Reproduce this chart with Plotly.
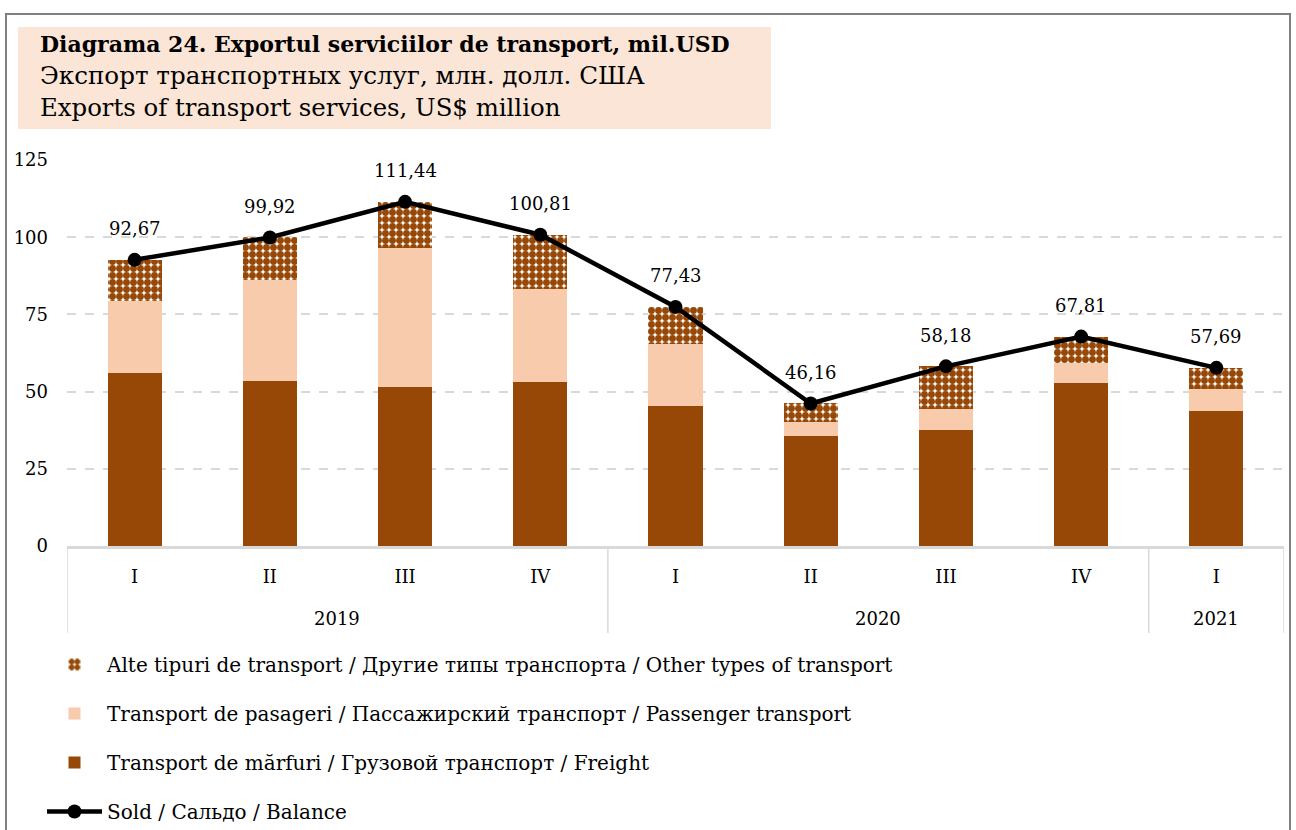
import plotly.graph_objects as go

years = ["2019", "2019", "2019", "2019", "2020", "2020", "2020", "2020", "2021"]
quarters = ["I", "II", "III", "IV", "I", "II", "III", "IV", "I"]
freight = [56.0, 53.4, 51.5, 53.1, 45.3, 35.7, 37.7, 52.7, 43.8]
passenger = [23.3, 32.7, 45.0, 30.1, 20.0, 4.3, 6.7, 6.6, 6.9]
other = [13.37, 13.82, 14.94, 17.61, 12.13, 6.16, 13.78, 8.51, 6.99]
balance = [92.67, 99.92, 111.44, 100.81, 77.43, 46.16, 58.18, 67.81, 57.69]

FONT = "DejaVu Serif"
BROWN = "#974706"
PEACH = "#F8CBAD"
GRID = "#D9D9D9"

W, H = 1296, 830
SX0, SX1 = 67, 1284      # plot area in screen px
SY0, SY1 = 160, 546
L, R = SX0, W - SX1
T, B = SY0, H - SY1
PW, PH = SX1 - SX0, SY1 - SY0


def px(x):
    return (x - SX0) / PW


def py(y):
    return (SY1 - y) / PH


idx = list(range(len(quarters)))

fig = go.Figure()
fig.add_trace(go.Bar(
    x=idx, y=freight, name="Transport de mărfuri / Грузовой транспорт / Freight",
    marker=dict(color=BROWN, line=dict(width=0)), legendrank=3, legendgroup="c"))
fig.add_trace(go.Bar(
    x=idx, y=passenger, name="Transport de pasageri / Пассажирский транспорт / Passenger transport",
    marker=dict(color=PEACH, line=dict(width=0)), legendrank=2, legendgroup="b"))
fig.add_trace(go.Bar(
    x=idx, y=other, name="Alte tipuri de transport / Другие типы транспорта / Other types of transport",
    marker=dict(color="white", line=dict(width=0),
                pattern=dict(shape=".", fgcolor=BROWN, bgcolor="white", size=7,
                             solidity=0.75, fgopacity=1)),
    legendrank=1, legendgroup="a"))
fig.add_trace(go.Scatter(
    x=idx, y=balance, name="Sold / Сальдо / Balance", mode="lines+markers",
    line=dict(color="black", width=4.5), marker=dict(color="black", size=14),
    cliponaxis=False, legendrank=4, legendgroup="d"))

shapes = [
    dict(type="rect", xref="paper", yref="paper", x0=px(6), x1=px(1290), y0=py(845), y1=py(14),
         line=dict(color="#7F7F7F", width=2), fillcolor="rgba(0,0,0,0)", layer="below"),
    dict(type="rect", xref="paper", yref="paper", x0=px(18), x1=px(771), y0=py(129), y1=py(27),
         line=dict(width=0), fillcolor="#FBE5D6", layer="below"),
]
# year group dividers on the category axis
group_edges = [-0.5]
for i in range(1, len(years)):
    if years[i] != years[i - 1]:
        group_edges.append(i - 0.5)
group_edges.append(len(years) - 0.5)
for e in group_edges:
    shapes.append(dict(type="line", xref="x", yref="paper", x0=e, x1=e, y0=0, y1=py(633),
                       line=dict(color=GRID, width=1.5)))

annotations = [
    dict(text="<b>Diagrama 24. Exportul serviciilor de transport, mil.USD</b>", x=px(38), y=py(44),
         xref="paper", yref="paper", xanchor="left", yanchor="middle", showarrow=False,
         font=dict(family=FONT, size=22, color="black")),
    dict(text="Экспорт транспортных услуг, млн. долл. США", x=px(38), y=py(76),
         xref="paper", yref="paper", xanchor="left", yanchor="middle", showarrow=False,
         font=dict(family=FONT, size=24.6, color="black")),
    dict(text="Exports of transport services, US$ million", x=px(38), y=py(108),
         xref="paper", yref="paper", xanchor="left", yanchor="middle", showarrow=False,
         font=dict(family=FONT, size=24.4, color="black")),
]
# data labels above the balance points
for i, v in zip(idx, balance):
    annotations.append(dict(text=f"{v:.2f}".replace(".", ","), x=i, y=v, xref="x", yref="y",
                            yshift=31, showarrow=False, yanchor="middle",
                            font=dict(family=FONT, size=18, color="black")))
# year labels centred under each group
for a, b in zip(group_edges[:-1], group_edges[1:]):
    yr = years[int(a + 0.5)]
    annotations.append(dict(text=yr, x=(a + b) / 2, y=py(618), xref="x", yref="paper",
                            showarrow=False, yanchor="middle",
                            font=dict(family=FONT, size=18, color="black")))

fig.update_layout(
    width=W, height=H,
    margin=dict(l=L, r=R, t=T, b=B, autoexpand=False),
    paper_bgcolor="white", plot_bgcolor="white",
    barmode="stack", bargap=0.6,
    separators=", ",
    font=dict(family=FONT, size=18, color="black"),
    shapes=shapes, annotations=annotations,
    legend=dict(x=px(42), y=py(645), xanchor="left", yanchor="top",
                traceorder="grouped", tracegroupgap=20, itemwidth=55,
                font=dict(family=FONT, size=20, color="black"),
                bgcolor="rgba(0,0,0,0)"),
    showlegend=True,
)
fig.update_yaxes(range=[0, 125], dtick=25, showgrid=True, gridcolor=GRID,
                 griddash="dash", gridwidth=2, zeroline=False, showline=False,
                 ticks="", tickfont=dict(family=FONT, size=18), ticklabelstandoff=18)
fig.update_xaxes(range=[-0.5, len(quarters) - 0.5], tickvals=idx, ticktext=quarters,
                 showline=True, linecolor=GRID, linewidth=2.5, ticks="", showgrid=False,
                 zeroline=False, tickfont=dict(family=FONT, size=18), ticklabelstandoff=13)

fig.write_html("out.html", config={"displayModeBar": False},
               post_script="document.body.style.margin='0';document.body.style.overflow='hidden';")
